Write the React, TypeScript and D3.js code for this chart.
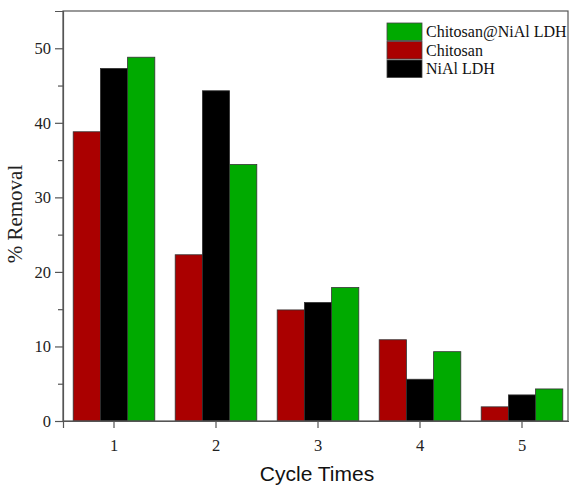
import React, { useEffect, useRef } from "react";
import * as d3 from "d3";

const cycles = ["1", "2", "3", "4", "5"];
const seriesNames = ["Chitosan", "NiAl LDH", "Chitosan@NiAl LDH"];
const chitosan = [38.8, 22.3, 14.9, 10.9, 1.9];
const nialLdh = [47.3, 44.3, 15.9, 5.6, 3.5];
const composite = [48.8, 34.4, 17.9, 9.3, 4.3];
const yTicks = [0, 10, 20, 30, 40, 50];
const yMinorTicks = [5, 15, 25, 35, 45];
const legendOrder = ["Chitosan@NiAl LDH", "Chitosan", "NiAl LDH"];

const colors: Record<string, string> = {
    "Chitosan": "#aa0000",
    "NiAl LDH": "#000000",
    "Chitosan@NiAl LDH": "#00aa00",
};

const App = () => {
    const chartRef = useRef<HTMLDivElement>(null);

    useEffect(() => {
        const width = 569;
        const height = 485;
        const margin = { top: 11, right: 1, bottom: 64, left: 63 };
        const serif = "'Liberation Serif', 'Times New Roman', serif";

        d3.select(chartRef.current).select("svg").remove();

        const svg = d3
            .select(chartRef.current)
            .append("svg")
            .attr("width", width)
            .attr("height", height)
            .style("display", "block");

        const values = [chitosan, nialLdh, composite];

        const xScale = d3
            .scaleBand()
            .domain(cycles)
            .range([margin.left, margin.left + 102 * 5])
            .paddingInner(0.2)
            .paddingOuter(0.1);

        const xInner = d3
            .scaleBand()
            .domain(seriesNames)
            .range([0, xScale.bandwidth()]);

        const yScale = d3
            .scaleLinear()
            .domain([0, 55])
            .range([height - margin.bottom, margin.top]);

        // bars
        seriesNames.forEach((name, si) => {
            svg.append("g")
                .selectAll("rect")
                .data(values[si])
                .enter()
                .append("rect")
                .attr("x", (d, i) => (xScale(cycles[i]) as number) + (xInner(name) as number))
                .attr("y", (d) => yScale(d))
                .attr("width", xInner.bandwidth())
                .attr("height", (d) => yScale(0) - yScale(d))
                .attr("fill", colors[name])
                .attr("stroke", "#333")
                .attr("stroke-width", 0.8);
        });

        // frame
        svg.append("rect")
            .attr("x", margin.left)
            .attr("y", margin.top)
            .attr("width", width - margin.right - margin.left)
            .attr("height", yScale(0) - margin.top)
            .attr("fill", "none")
            .attr("stroke", "#555")
            .attr("stroke-width", 1.2);

        // y axis
        const yAxis = svg.append("g")
            .attr("transform", `translate(${margin.left},0)`)
            .call(d3.axisLeft(yScale).tickValues(yTicks).tickSize(8).tickPadding(4));
        yAxis.attr("font-family", serif).attr("font-size", 16.5);
        yAxis.select(".domain").attr("stroke", "#555").attr("stroke-width", 1.2);
        yAxis.selectAll("line").attr("stroke", "#555").attr("stroke-width", 1.2);
        yAxis.selectAll("text").attr("fill", "#222");

        const yMinor = svg.append("g")
            .attr("transform", `translate(${margin.left},0)`)
            .call(d3.axisLeft(yScale).tickValues(yMinorTicks).tickSize(5).tickFormat(() => ""));
        yMinor.select(".domain").remove();
        yMinor.selectAll("line").attr("stroke", "#555").attr("stroke-width", 1.2);

        // x axis
        const xAxis = svg.append("g")
            .attr("transform", `translate(0,${yScale(0)})`)
            .call(d3.axisBottom(xScale).tickSize(7).tickPadding(11));
        xAxis.attr("font-family", serif).attr("font-size", 16.5);
        xAxis.select(".domain").attr("stroke", "#555").attr("stroke-width", 1.2);
        xAxis.selectAll("line").attr("stroke", "#555").attr("stroke-width", 1.2);
        xAxis.selectAll("text").attr("fill", "#222");

        // axis titles
        svg.append("text")
            .attr("transform", `translate(22,214) rotate(-90)`)
            .attr("text-anchor", "middle")
            .attr("font-family", serif)
            .attr("font-size", 21)
            .attr("fill", "#222")
            .text("% Removal");

        svg.append("text")
            .attr("x", 317)
            .attr("y", 481)
            .attr("text-anchor", "middle")
            .attr("font-family", "'Liberation Sans', Arial, sans-serif")
            .attr("font-size", 21)
            .attr("fill", "#111")
            .text("Cycle Times");

        // legend
        const legend = svg.append("g").attr("transform", "translate(387,23)");
        legendOrder.forEach((name, i) => {
            legend.append("rect")
                .attr("x", 0)
                .attr("y", i * 18.5)
                .attr("width", 35)
                .attr("height", 17.5)
                .attr("fill", colors[name])
                .attr("stroke", "#444")
                .attr("stroke-width", 0.8);
            legend.append("text")
                .attr("x", 39)
                .attr("y", i * 18.5 + 14)
                .attr("font-family", serif)
                .attr("font-size", 16)
                .attr("fill", "#111")
                .text(name);
        });
    }, []);

    return <div ref={chartRef} style={{ position: "absolute", left: 0, top: 0 }}></div>;
};

export default App;
